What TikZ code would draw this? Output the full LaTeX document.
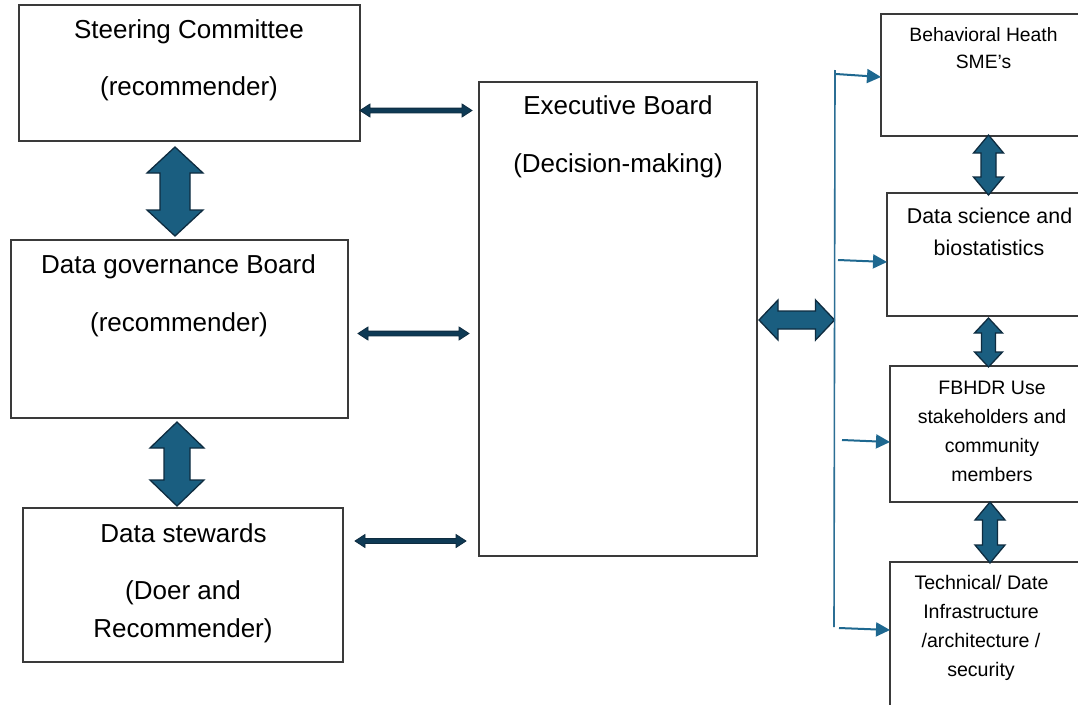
\documentclass[tikz,border=0pt]{standalone}
\usepackage{fontspec}
\setmainfont{Liberation Sans}
\usetikzlibrary{calc,arrows.meta}
\definecolor{boxline}{HTML}{3A3A3A}
\definecolor{afill}{HTML}{1A5E80}
\definecolor{aline}{HTML}{0E2C40}
\definecolor{tfill}{HTML}{0E3A55}
\definecolor{vline}{HTML}{2B6E94}
\definecolor{sarrow}{HTML}{1E6890}
\tikzset{
  boxnode/.style={draw=boxline, line width=1.2pt, fill=white, inner sep=0pt, outer sep=0pt},
  bigtxt/.style={font=\fontsize{26}{30}\selectfont, text height=20pt, text depth=6pt, inner sep=0pt, anchor=center},
  smltxt/.style={font=\fontsize{#1}{#1}\selectfont, text height=0.76*#1 pt, text depth=0.24*#1 pt, inner sep=0pt, anchor=center},
  blk/.style={fill=afill, draw=aline, line width=1.3pt, line join=miter},
  thin/.style={fill=tfill, draw=aline, line width=0.8pt, line join=miter},
  sarr/.style={draw=sarrow, line width=2pt, -{Triangle[length=14pt,width=14pt]}},
}
\newcommand\vdblarrow[6][blk]{%
  \draw[#1] let \p1=(#2), \p2=(#3) in
  (\x1,\y1) -- (\x1+#5,\y1-#6) -- (\x1+#4,\y1-#6) -- (\x1+#4,\y2+#6) -- (\x1+#5,\y2+#6)
  -- (\x1,\y2) -- (\x1-#5,\y2+#6) -- (\x1-#4,\y2+#6) -- (\x1-#4,\y1-#6) -- (\x1-#5,\y1-#6) -- cycle;}
\newcommand\hdblarrow[6][blk]{%
  \draw[#1] let \p1=(#2), \p2=(#3) in
  (\x1,\y1) -- (\x1+#6,\y1+#5) -- (\x1+#6,\y1+#4) -- (\x2-#6,\y1+#4) -- (\x2-#6,\y1+#5)
  -- (\x2,\y1) -- (\x2-#6,\y1-#5) -- (\x2-#6,\y1-#4) -- (\x1+#6,\y1-#4) -- (\x1+#6,\y1-#5) -- cycle;}
\begin{document}
\begin{tikzpicture}[x=1pt,y=-1pt]
\clip (0,0) rectangle (1078,704);
\fill[white] (0,0) rectangle (1078,704);
% boxes
\node[boxnode, minimum width=341pt, minimum height=136pt] (sc) at (189.5,73) {};
\node[boxnode, minimum width=337pt, minimum height=178pt] (dg) at (179.5,329) {};
\node[boxnode, minimum width=320pt, minimum height=154pt] (ds) at (183,585) {};
\node[boxnode, minimum width=278pt, minimum height=474pt] (eb) at (618,319) {};
\node[boxnode, minimum width=210pt, minimum height=122pt] (bh) at (986,75) {};
\node[boxnode, minimum width=210pt, minimum height=123pt] (dsb) at (992,254.5) {};
\node[boxnode, minimum width=210pt, minimum height=136pt] (fb) at (995,434) {};
\node[boxnode, minimum width=210pt, minimum height=160pt] (td) at (995,642) {};
% texts
\node[bigtxt] (t1) at (189,31.5) {Steering Committee};
\node[bigtxt] (t2) at (189,88.5) {(recommender)};
\node[bigtxt] (t3) at (178.5,266.5) {Data governance Board};
\node[bigtxt] (t4) at (179,324.5) {(recommender)};
\node[bigtxt] (t5) at (183.5,535.5) {Data stewards};
\node[bigtxt] (t6) at (183,592.5) {(Doer and};
\node[bigtxt] (t7) at (183,630.5) {Recommender)};
\node[bigtxt] (t8) at (618,107.5) {Executive Board};
\node[bigtxt] (t9) at (618,165.5) {(Decision-making)};
\node[smltxt=19.3] (t10) at (983.5,36.5) {Behavioral Heath};
\node[smltxt=19.3] (t11) at (983.5,63.5) {SME’s};
\node[smltxt=21.4] (t12) at (989.5,217.5) {Data science and};
\node[smltxt=21.4] (t13) at (989,249.5) {biostatistics};
\node[smltxt=19.5] (t14) at (992,389.5) {FBHDR Use};
\node[smltxt=19.5] (t15) at (992,418.5) {stakeholders and};
\node[smltxt=19.5] (t16) at (992,447.5) {community};
\node[smltxt=19.5] (t17) at (992,476.5) {members};
\node[smltxt=19.6] (t18) at (981.5,584.5) {Technical/ Date};
\node[smltxt=19.6] (t19) at (981,613.5) {Infrastructure};
\node[smltxt=19.6] (t20) at (981,642.5) {/architecture /};
\node[smltxt=19.6] (t21) at (981,671.5) {security};
% coordinates for connectors
\coordinate (a1t) at (175,147);
\coordinate (a1b) at (175,236);
\coordinate (a2t) at (177,422);
\coordinate (a2b) at (177,506);
\coordinate (hl) at (759,320);
\coordinate (vl1) at (835,70);
\coordinate (vl2) at (834,627);
\coordinate (hr) at ($(vl1)!(hl)!(vl2)$);
\coordinate (r1t) at (988.5,135);
\coordinate (r1b) at (988.5,195);
\coordinate (r2t) at (988.5,318);
\coordinate (r2b) at (988.5,367);
\coordinate (r3t) at (990,502);
\coordinate (r3b) at (990,563);
% big block arrows
\vdblarrow{a1t}{a1b}{15pt}{28pt}{26pt}
\vdblarrow{a2t}{a2b}{13pt}{27pt}{26pt}
\hdblarrow{hl}{hr}{9pt}{20pt}{19pt}
\vdblarrow{r1t}{r1b}{7.5pt}{15pt}{18pt}
\vdblarrow{r2t}{r2b}{7pt}{14pt}{15pt}
\vdblarrow{r3t}{r3b}{7.5pt}{15pt}{18pt}
% thin double arrows
\coordinate (h1l) at (sc.east |- 0,110.5);
\coordinate (h1r) at (472,110.5);
\coordinate (h2l) at (358,333.5);
\coordinate (h2r) at (469,333.5);
\coordinate (h3l) at (355,541);
\coordinate (h3r) at (466,541);
\hdblarrow[thin]{h1l}{h1r}{2.4pt}{6.5pt}{10pt}
\hdblarrow[thin]{h2l}{h2r}{2.4pt}{6.5pt}{10pt}
\hdblarrow[thin]{h3l}{h3r}{2.4pt}{6.5pt}{10pt}
% vertical distribution line and small arrows
\draw[vline, line width=1.6pt] (vl1) -- (vl2);
\coordinate (s1) at (836,74);
\coordinate (s2) at (838,260);
\coordinate (s3) at (842,440);
\coordinate (s4) at (839,628);
\draw[sarr] (s1) -- (bh.west |- 0,77);
\draw[sarr] (s2) -- (dsb.west |- 0,262);
\draw[sarr] (s3) -- (fb.west |- 0,442);
\draw[sarr] (s4) -- (td.west |- 0,630);
\end{tikzpicture}
\end{document}
